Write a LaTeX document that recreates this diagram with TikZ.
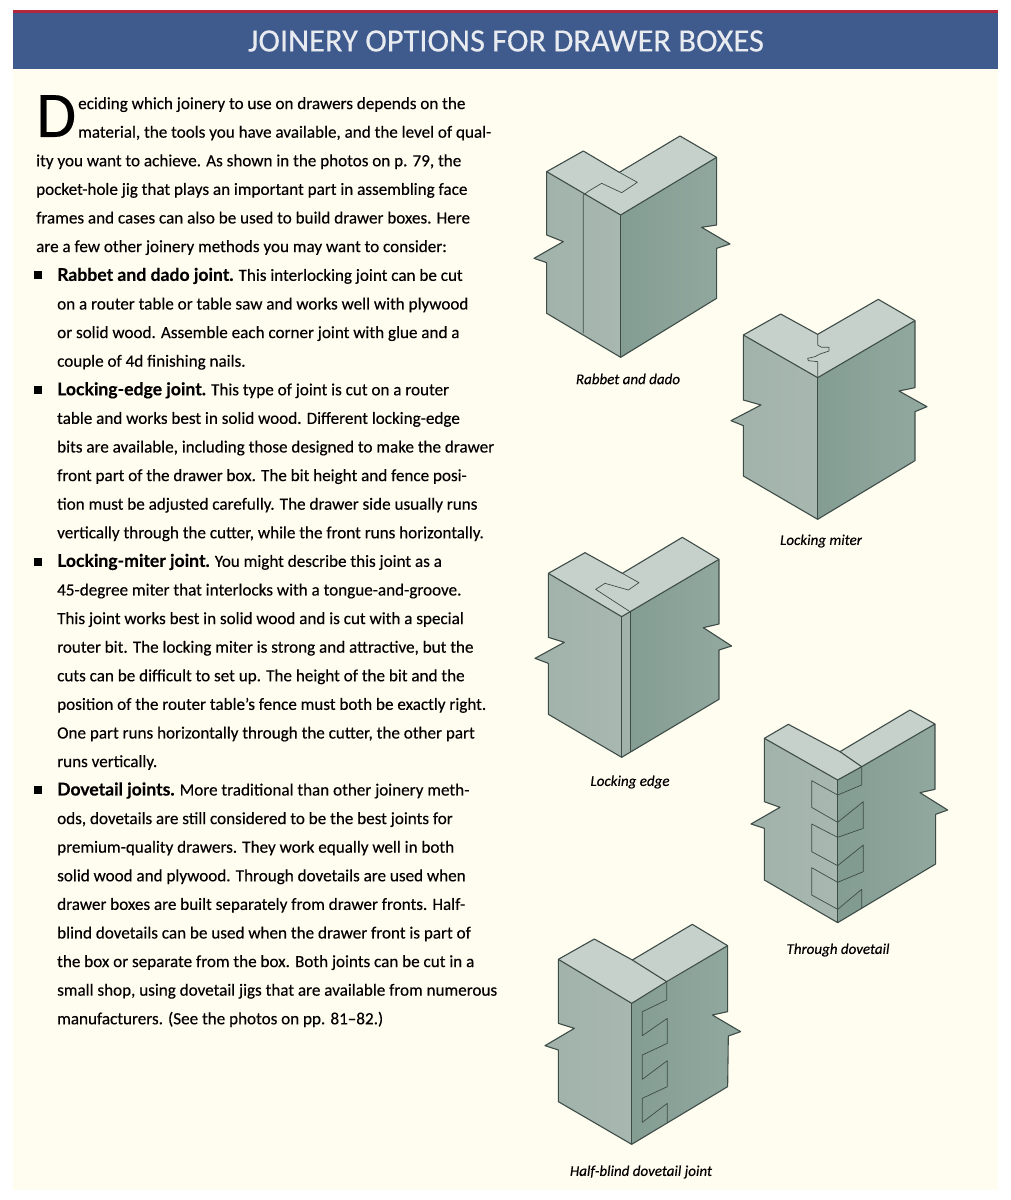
\documentclass[tikz,border=0pt]{standalone}
\usepackage{fontspec}
\setmainfont[FakeBold=0.3]{Carlito}
\newfontfamily\leadfont[BoldFont={Lato Bold},BoldFeatures={FakeBold=0.4}]{Lato}
\newcommand{\leadin}[1]{{\leadfont\bfseries\fontsize{17.6}{28.6}\selectfont #1}}
\usetikzlibrary{positioning}
\definecolor{pagecream}{RGB}{255, 253, 240}
\definecolor{bandblue}{RGB}{63, 90, 140}
\definecolor{bandred}{RGB}{178, 38, 62}
\definecolor{titlewhite}{RGB}{232, 235, 240}
\definecolor{topface}{RGB}{198, 209, 204}
\definecolor{leftfaceA}{RGB}{160, 178, 170}
\definecolor{leftfaceB}{RGB}{168, 184, 177}
\definecolor{rightfaceA}{RGB}{132, 157, 147}
\definecolor{rightfaceB}{RGB}{146, 169, 160}
\definecolor{tailface}{RGB}{130, 155, 145}
\definecolor{edgeline}{RGB}{62, 76, 72}
\tikzset{
    bodytext/.style={anchor=north west, inner sep=0pt, align=left, font=\fontsize{17.1}{28.6}\selectfont},
    bulletbox/.style={fill=black, inner sep=0pt, minimum size=8pt},
    caption/.style={inner sep=0pt, font=\fontsize{15}{18}\selectfont\itshape},
    joint/.style={x=0.3333pt, y=-0.3333pt},
    lface/.style={left color=leftfaceA, right color=leftfaceB},
    rface/.style={left color=rightfaceA, right color=rightfaceB},
    tface/.style={fill=topface},
    edge/.style={draw=edgeline, line width=1.1pt, line join=round},
    thinedge/.style={draw=edgeline, line width=0.7pt, line join=round}
}
\begin{document}
\begin{tikzpicture}[x=1pt, y=-1pt]
    \useasboundingbox (0, 0) rectangle (1011, 1200);

    % page and title band
    \fill[pagecream] (13, 69) rectangle (998, 1190);
    \fill[bandblue] (13, 12) rectangle (998, 69);
    \fill[bandred] (13, 10) rectangle (998, 13);
    \node[inner sep=0pt, text=titlewhite, font=\fontsize{32.5}{34}\selectfont] (title) at (506, 41) {JOINERY OPTIONS FOR DRAWER BOXES};

    % intro text
    \node[inner sep=0pt, anchor=north west, font=\fontsize{65}{65}\selectfont] (dropcap) at (36, 95) {D};
    \node[bodytext] (intro1) at (78, 97) {eciding which joinery to use on drawers depends on the\\
        material, the tools you have available, and the level of qual-};
    \node[bodytext] (intro2) at (36, 154.2) {ity you want to achieve. As shown in the photos on p. 79, the\\
        pocket-hole jig that plays an important part in assembling face\\
        frames and cases can also be used to build drawer boxes. Here\\
        are a few other joinery methods you may want to consider:};

    % bullet items
    \node[bulletbox] (bullet1) at (38, 275) {};
    \node[bodytext] (rabbet) at (57, 267.6) {\leadin{Rabbet and dado joint.} This interlocking joint can be cut\\
        on a router table or table saw and works well with plywood\\
        or solid wood. Assemble each corner joint with glue and a\\
        couple of 4d finishing nails.};
    \node[bulletbox] (bullet2) at (38, 390) {};
    \node[bodytext] (edgetext) at (57, 382) {\leadin{Locking-edge joint.} This type of joint is cut on a router\\
        table and works best in solid wood. Different locking-edge\\
        bits are available, including those designed to make the drawer\\
        front part of the drawer box. The bit height and fence posi-\\
        tion must be adjusted carefully. The drawer side usually runs\\
        vertically through the cutter, while the front runs horizontally.};
    \node[bulletbox] (bullet3) at (38, 562) {};
    \node[bodytext] (mitertext) at (57, 553.6) {\leadin{Locking-miter joint.} You might describe this joint as a\\
        45-degree miter that interlocks with a tongue-and-groove.\\
        This joint works best in solid wood and is cut with a special\\
        router bit. The locking miter is strong and attractive, but the\\
        cuts can be difficult to set up. The height of the bit and the\\
        position of the router table's fence must both be exactly right.\\
        One part runs horizontally through the cutter, the other part\\
        runs vertically.};
    \node[bulletbox] (bullet4) at (38, 790) {};
    \node[bodytext] (dovetext) at (57, 782.2) {\leadin{Dovetail joints.} More traditional than other joinery meth-\\
        ods, dovetails are still considered to be the best joints for\\
        premium-quality drawers. They work equally well in both\\
        solid wood and plywood. Through dovetails are used when\\
        drawer boxes are built separately from drawer fronts. Half-\\
        blind dovetails can be used when the drawer front is part of\\
        the box or separate from the box. Both joints can be cut in a\\
        small shop, using dovetail jigs that are available from numerous\\
        manufacturers. (See the photos on pp. 81--82.)};

    % rabbet and dado
    \begin{scope}[shift={(530, 120)}, joint]
        \path[lface] (50,155) -- (50,345) -- (100,365) -- (12,415) -- (50,428) -- (50,580) -- (272,712) -- (272,285) -- cycle;
        \path[rface] (272,285) -- (560,112) -- (560,315) -- (515,322) -- (600,372) -- (560,385) -- (560,535) -- (272,712) -- cycle;
        \path[tface] (50,155) -- (160,93) -- (268,157) -- (450,48) -- (560,112) -- (272,285) -- cycle;
        \draw[edge] (50,155) -- (160,93) -- (268,157) -- (450,48) -- (560,112) -- (560,315) -- (515,322) -- (600,372) -- (560,385) -- (560,535) -- (272,712) -- (50,580) -- (50,428) -- (12,415) -- (100,365) -- (50,345) -- cycle;
        \draw[edge] (50,155) -- (272,285) -- (560,112);
        \draw[edge] (272,285) -- (272,712);
        \draw[thinedge] (268,157) -- (322,187) -- (275,218) -- (215,190) -- (178,212) -- (160,225) -- (160,640);
    \end{scope}
    \node[caption] (cap1) at (628, 379) {Rabbet and dado};

    % locking miter
    \begin{scope}[shift={(725, 290)}, joint]
        \path[lface] (55,135) -- (55,330) -- (108,345) -- (18,392) -- (55,407) -- (55,558) -- (278,688) -- (278,263) -- cycle;
        \path[rface] (278,263) -- (570,92) -- (570,293) -- (522,303) -- (606,350) -- (570,365) -- (570,512) -- (278,688) -- cycle;
        \path[tface] (55,135) -- (167,72) -- (278,133) -- (460,28) -- (570,92) -- (278,263) -- cycle;
        \draw[edge] (55,135) -- (167,72) -- (278,133) -- (460,28) -- (570,92) -- (570,293) -- (522,303) -- (606,350) -- (570,365) -- (570,512) -- (278,688) -- (55,558) -- (55,407) -- (18,392) -- (108,345) -- (55,330) -- cycle;
        \draw[edge] (55,135) -- (278,263) -- (570,92);
        \draw[edge] (278,263) -- (278,688);
        \draw[thinedge] (278,133) -- (278,165) -- (290,172) -- (312,172) -- (312,183) -- (285,192) -- (270,200) -- (248,205) -- (250,212) -- (278,215) -- (278,263);
    \end{scope}
    \node[caption] (cap2) at (821, 541) {Locking miter};

    % locking edge
    \begin{scope}[shift={(525, 530)}, joint]
        \path[lface] (70,130) -- (70,322) -- (118,337) -- (30,385) -- (70,400) -- (70,553) -- (290,682) -- (290,260) -- cycle;
        \path[rface] (315,245) -- (582,88) -- (582,282) -- (535,293) -- (620,348) -- (582,360) -- (582,508) -- (315,667) -- cycle;
        \fill[leftfaceA] (290,260) -- (315,245) -- (315,667) -- (290,682) -- cycle;
        \path[tface] (70,130) -- (180,68) -- (292,130) -- (472,22) -- (582,88) -- (290,260) -- cycle;
        \draw[edge] (70,130) -- (180,68) -- (292,130) -- (472,22) -- (582,88) -- (582,282) -- (535,293) -- (620,348) -- (582,360) -- (582,508) -- (290,682) -- (70,553) -- (70,400) -- (30,385) -- (118,337) -- (70,322) -- cycle;
        \draw[edge] (70,130) -- (290,260) -- (582,88);
        \draw[edge] (290,260) -- (290,682);
        \draw[thinedge] (315,245) -- (315,667);
        \draw[thinedge] (292,130) -- (342,158) -- (310,180) -- (240,160) -- (212,178) -- (315,245);
    \end{scope}
    \node[caption] (cap3) at (630, 782) {Locking edge};

    % through dovetail
    \begin{scope}[shift={(745, 700)}, joint]
        \path[lface] (58,115) -- (58,305) -- (105,322) -- (18,372) -- (58,385) -- (58,540) -- (278,668) -- (278,240) -- cycle;
        \path[rface] (278,240) -- (350,200) -- (570,72) -- (570,268) -- (525,278) -- (608,330) -- (572,343) -- (572,492) -- (278,668) -- cycle;
        \path[tface] (58,115) -- (130,73) -- (285,155) -- (495,30) -- (570,72) -- (278,240) -- cycle;
        \fill[tailface] (278,240) -- (350,200) -- (350,255) -- (278,285) -- cycle;
        \fill[tailface] (278,352) -- (355,305) -- (355,385) -- (278,412) -- cycle;
        \fill[tailface] (278,497) -- (355,435) -- (355,515) -- (278,547) -- cycle;
        \fill[tailface] (278,628) -- (350,568) -- (350,625) -- (278,668) -- cycle;
        \draw[edge] (58,115) -- (130,73) -- (285,155) -- (495,30) -- (570,72) -- (570,268) -- (525,278) -- (608,330) -- (572,343) -- (572,492) -- (278,668) -- (58,540) -- (58,385) -- (18,372) -- (105,322) -- (58,305) -- cycle;
        \draw[edge] (58,115) -- (278,240) -- (350,200);
        \draw[thinedge] (278,240) -- (278,668);
        \draw[edge] (285,155) -- (350,200) -- (570,72);
        \draw[thinedge] (350,200) -- (350,255) -- (278,285) -- (200,242) -- (200,322) -- (278,367) -- (355,305) -- (355,385) -- (278,412) -- (200,372) -- (200,455) -- (278,497) -- (355,435) -- (355,515) -- (278,547) -- (200,503) -- (200,585) -- (278,628) -- (350,568) -- (350,625);
    \end{scope}
    \node[caption] (cap4) at (838, 950) {Through dovetail};

    % half-blind dovetail
    \begin{scope}[shift={(535, 915)}, joint]
        \path[lface] (70,133) -- (70,325) -- (118,340) -- (30,392) -- (70,405) -- (70,560) -- (290,688) -- (290,265) -- cycle;
        \path[rface] (290,265) -- (578,92) -- (578,290) -- (532,300) -- (617,350) -- (580,363) -- (578,515) -- (290,688) -- cycle;
        \path[tface] (70,133) -- (178,72) -- (292,135) -- (472,28) -- (578,92) -- (290,265) -- cycle;
        \draw[edge] (70,133) -- (178,72) -- (292,135) -- (472,28) -- (578,92) -- (578,290) -- (532,300) -- (617,350) -- (580,363) -- (578,515) -- (290,688) -- (70,560) -- (70,405) -- (30,392) -- (118,340) -- (70,325) -- cycle;
        \draw[edge] (70,133) -- (290,265) -- (395,200) -- (578,92);
        \draw[edge] (290,265) -- (290,688);
        \draw[edge] (292,135) -- (395,200);
        \draw[thinedge] (395,200) -- (395,255) -- (322,290) -- (322,362) -- (397,310) -- (397,385) -- (322,420) -- (322,493) -- (397,437) -- (397,515) -- (322,550) -- (322,622) -- (397,565) -- (397,624);
    \end{scope}
    \node[caption] (cap5) at (641, 1172) {Half-blind dovetail joint};
\end{tikzpicture}
\end{document}
